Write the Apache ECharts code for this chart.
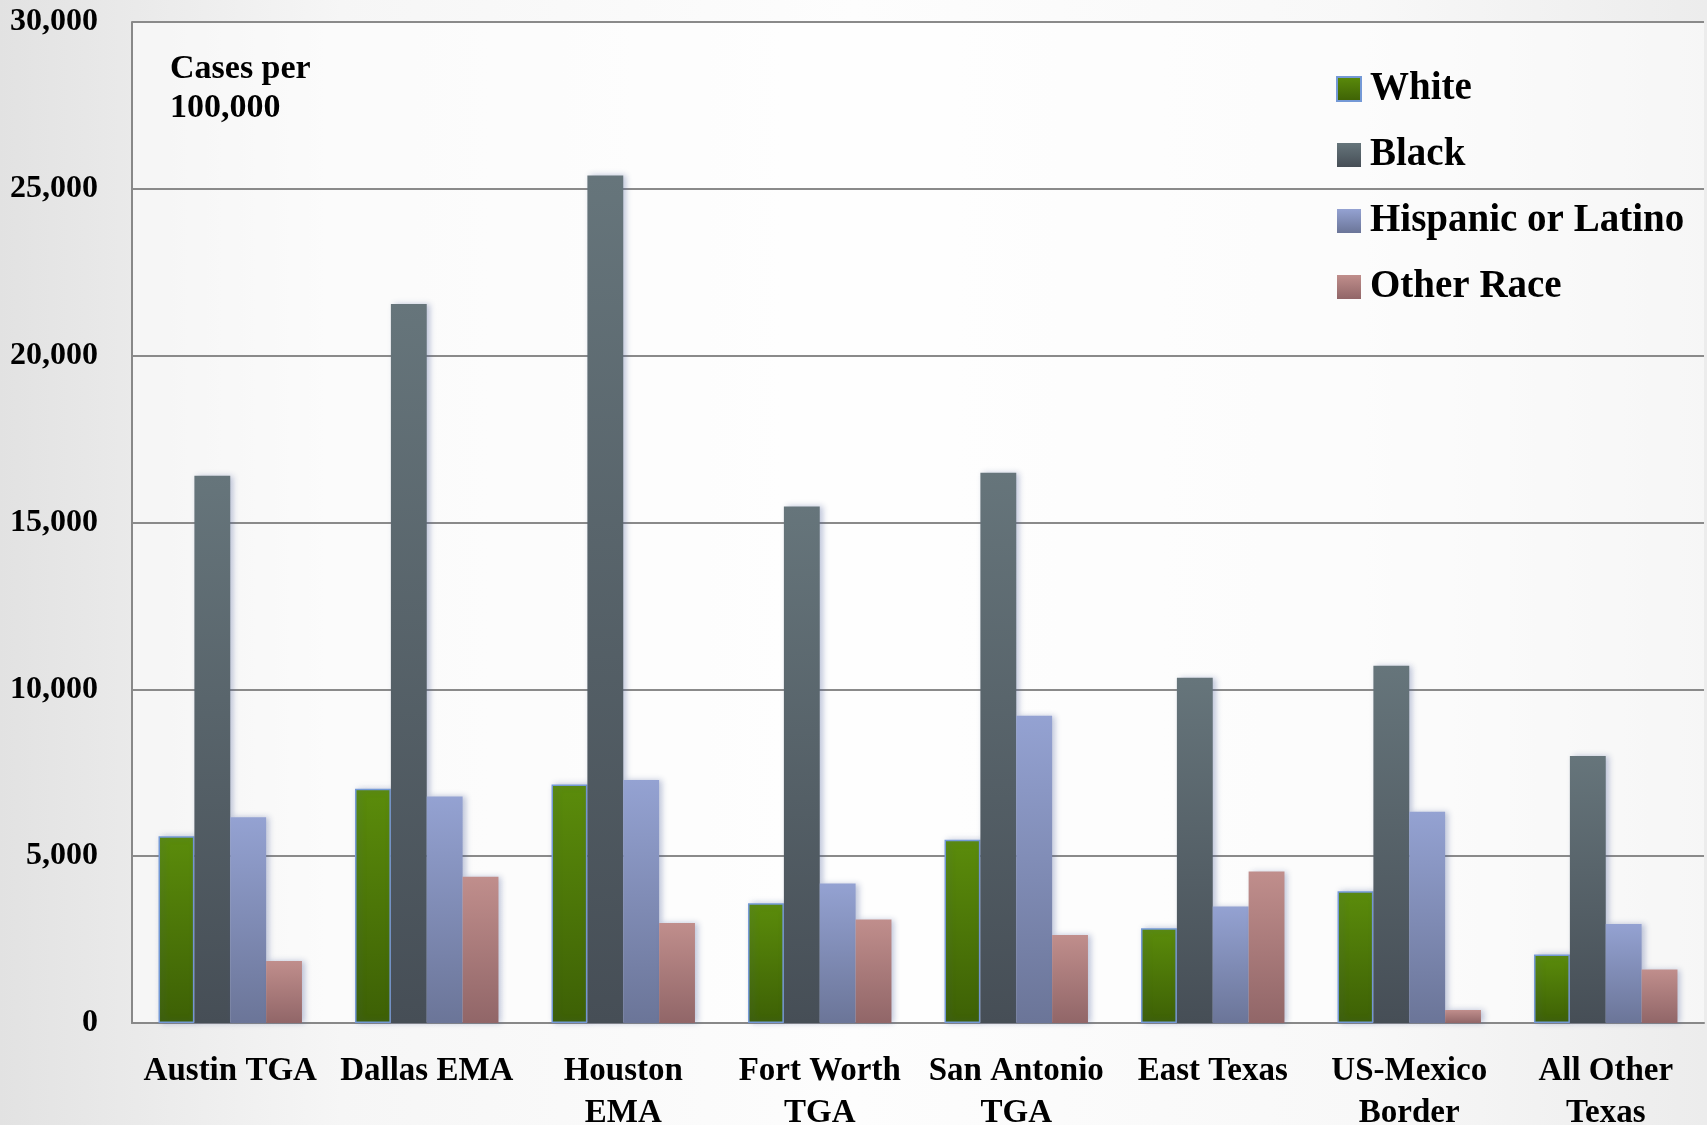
<!DOCTYPE html>
<html>
<head>
<meta charset="utf-8">
<script src="https://cdn.jsdelivr.net/npm/echarts@6/dist/echarts.min.js"></script>
<style>
  html, body { margin: 0; padding: 0; }
  body {
    width: 1707px; height: 1125px;
    background: linear-gradient(90deg, #e2e2e2 0%, #f6f6f6 20%, #fdfdfd 50%, #f8f8f8 80%, #ececec 100%);
  }
  #chart { width: 1707px; height: 1125px; }
</style>
</head>
<body>
<div id="chart"></div>
<script>
  // regions (two-line labels as on the slide)
  const regions = ['Austin TGA', 'Dallas EMA', 'Houston\nEMA', 'Fort Worth\nTGA', 'San Antonio\nTGA', 'East Texas', 'US-Mexico\nBorder', 'All Other\nTexas'];

  // cases per 100,000
  const white    = [5600, 7020, 7150, 3590, 5490, 2840, 3950, 2050];
  const black    = [16400, 21550, 25400, 15480, 16490, 10350, 10710, 8000];
  const hispanic = [6170, 6790, 7280, 4180, 9210, 3490, 6330, 2970];
  const other    = [1860, 4380, 3000, 3100, 2640, 4540, 390, 1600];

  const yTicks = { min: 0, max: 30000, step: 5000 };

  const grad = (top, bottom) => new echarts.graphic.LinearGradient(0, 0, 0, 1, [
    { offset: 0, color: top }, { offset: 1, color: bottom }
  ]);

  const serif = '"Liberation Serif", "DejaVu Serif", serif';

  const chart = echarts.init(document.getElementById('chart'));

  function barSeries(name, data, top, bottom, border) {
    return {
      name: name,
      type: 'bar',
      data: data,
      barGap: '0%',
      barCategoryGap: '27%',
      itemStyle: {
        color: grad(top, bottom),
        borderColor: border || 'transparent',
        borderWidth: border ? 1.5 : 0,
        shadowColor: 'rgba(70,90,150,0.35)',
        shadowBlur: 6,
        shadowOffsetX: 3,
        shadowOffsetY: 0
      }
    };
  }

  const option = {
    backgroundColor: 'transparent',
    animation: false,
    grid: {
      left: 132, right: 3, top: 22, bottom: 102,
      outerBoundsMode: 'none',
      containLabel: false,
      show: true, backgroundColor: 'rgba(255,255,255,0.55)', borderWidth: 0
    },
    legend: {
      orient: 'vertical',
      left: 1336,
      top: 69,
      padding: 0,
      itemWidth: 24,
      itemHeight: 24,
      itemGap: 26,
      icon: 'rect',
      textStyle: { fontFamily: serif, fontWeight: 'bold', fontSize: 39, color: '#000', lineHeight: 40, padding: [0, 0, 0, 4] },
      data: ['White', 'Black', 'Hispanic or Latino', 'Other Race']
    },
    xAxis: {
      type: 'category',
      data: regions,
      axisLine: { lineStyle: { color: '#888', width: 2 } },
      axisTick: { show: false },
      axisLabel: {
        interval: 0,
        margin: 27,
        fontFamily: serif,
        fontWeight: 'bold',
        fontSize: 33,
        lineHeight: 42,
        color: '#000'
      }
    },
    yAxis: {
      type: 'value',
      min: yTicks.min,
      max: yTicks.max,
      interval: yTicks.step,
      axisLine: { show: true, lineStyle: { color: '#888', width: 2 } },
      axisTick: { show: false },
      splitLine: { lineStyle: { color: '#8a8a8a', width: 2 } },
      axisLabel: {
        margin: 34,
        fontFamily: serif,
        fontWeight: 'bold',
        fontSize: 32,
        color: '#000',
        formatter: v => v.toLocaleString('en-US')
      }
    },
    graphic: [{
      type: 'text',
      left: 170,
      top: 50,
      style: {
        text: 'Cases per\n100,000',
        font: 'bold 34px ' + serif,
        lineHeight: 39,
        fill: '#000'
      }
    }],
    series: [
      barSeries('White', white, '#5b8c0b', '#3d6005', '#7499d6'),
      barSeries('Black', black, '#66757b', '#464e56'),
      barSeries('Hispanic or Latino', hispanic, '#94a2d2', '#6b7598'),
      barSeries('Other Race', other, '#c08e8c', '#916668')
    ]
  };

  chart.setOption(option);
  window.addEventListener('resize', function () { chart.resize(); });
</script>
</body>
</html>
